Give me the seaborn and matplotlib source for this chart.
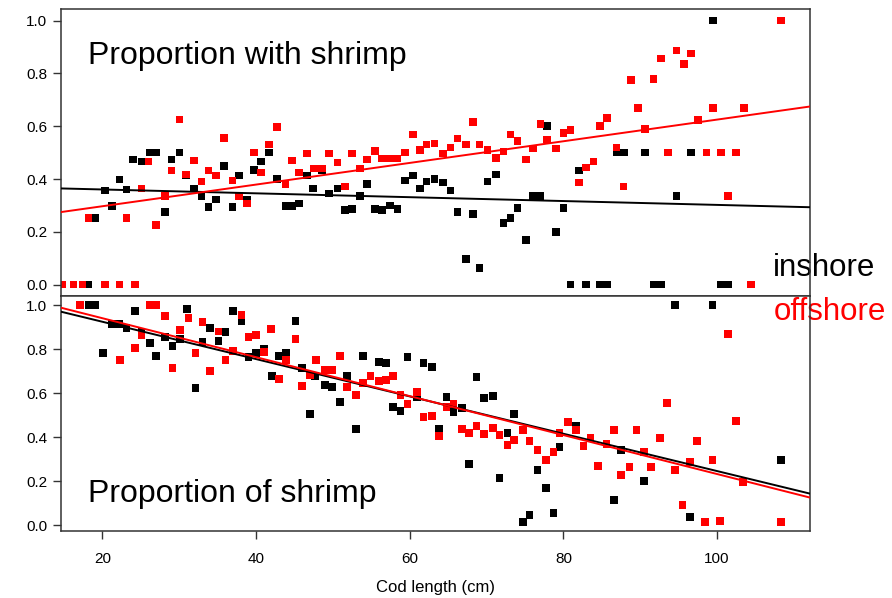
import numpy as np
import pandas as pd
import matplotlib
matplotlib.use('Agg')
import matplotlib.pyplot as plt
import seaborn as sns

# --- data ---
# top panel: proportion of cod with shrimp in stomach, by length
with_in_x = [18.2, 19.1, 20.3, 21.2, 22.2, 23.1, 24.0, 25.1, 26.1, 27.0, 28.1, 29.0, 30.0, 30.9,
             31.9, 32.9, 33.8, 34.8, 35.8, 36.9, 37.8, 38.8, 39.7, 40.6, 41.7, 42.7, 43.8, 44.7,
             45.6, 46.6, 47.4, 48.6, 49.5, 50.6, 51.6, 52.5, 53.5, 54.4, 55.5, 56.4, 57.4, 58.4,
             59.4, 60.4, 61.3, 62.2, 63.2, 64.3, 65.3, 66.2, 67.3, 68.2, 69.1, 70.1, 71.2, 72.2,
             73.1, 74.0, 75.1, 76.0, 77.0, 77.9, 79.0, 80.0, 80.9, 82.0, 82.9, 84.8, 85.7, 87.0,
             87.9, 90.6, 91.7, 92.7, 94.7, 96.6, 99.5, 100.5, 101.4]
with_in_y = [0.0, 0.252, 0.357, 0.297, 0.398, 0.36, 0.474, 0.466, 0.5, 0.5, 0.274, 0.474, 0.5, 0.413,
             0.364, 0.335, 0.293, 0.322, 0.45, 0.293, 0.413, 0.322, 0.435, 0.466, 0.5, 0.4, 0.297, 0.297,
             0.308, 0.413, 0.364, 0.432, 0.345, 0.364, 0.282, 0.286, 0.335, 0.38, 0.286, 0.282, 0.3, 0.286,
             0.395, 0.413, 0.364, 0.39, 0.4, 0.387, 0.357, 0.274, 0.097, 0.267, 0.064, 0.39, 0.417, 0.233,
             0.252, 0.29, 0.17, 0.335, 0.335, 0.6, 0.2, 0.29, 0.0, 0.432, 0.0, 0.0, 0.0, 0.5,
             0.5, 0.5, 0.0, 0.0, 0.335, 0.5, 1.0, 0.0, 0.0]

with_off_x = [14.7, 16.2, 17.4, 20.3, 22.2, 24.2, 18.2, 23.1, 25.1, 26.0, 27.0, 28.1, 29.0, 30.0,
              30.9, 31.9, 32.9, 33.8, 34.8, 35.8, 36.9, 37.8, 38.8, 39.7, 40.6, 41.7, 42.7, 43.8,
              44.7, 45.6, 46.6, 47.5, 48.6, 49.5, 50.6, 51.6, 52.5, 53.5, 54.4, 55.5, 56.4, 57.4,
              58.4, 59.4, 60.4, 61.3, 62.2, 63.2, 64.3, 65.3, 66.2, 67.3, 68.2, 69.1, 70.1, 71.2,
              72.2, 73.1, 74.0, 75.1, 76.0, 77.0, 77.9, 79.0, 80.0, 80.9, 82.0, 82.9, 83.9, 84.8,
              85.7, 86.9, 87.8, 88.8, 89.7, 90.6, 91.7, 92.7, 93.6, 94.7, 95.7, 96.6, 97.5, 98.6,
              99.5, 100.5, 101.4, 102.5, 103.5, 104.4, 108.3]
with_off_y = [0.0, 0.0, 0.0, 0.0, 0.0, 0.0, 0.252, 0.252, 0.364, 0.466, 0.225, 0.335, 0.432, 0.625,
              0.417, 0.47, 0.39, 0.432, 0.413, 0.556, 0.395, 0.335, 0.308, 0.5, 0.425, 0.531, 0.598, 0.38,
              0.47, 0.425, 0.496, 0.44, 0.44, 0.496, 0.462, 0.372, 0.496, 0.44, 0.474, 0.507, 0.477, 0.477,
              0.477, 0.5, 0.568, 0.51, 0.53, 0.534, 0.496, 0.52, 0.553, 0.53, 0.616, 0.53, 0.51, 0.48,
              0.504, 0.568, 0.545, 0.474, 0.515, 0.609, 0.549, 0.515, 0.575, 0.586, 0.387, 0.444, 0.466, 0.6,
              0.632, 0.519, 0.372, 0.774, 0.669, 0.59, 0.778, 0.857, 0.5, 0.887, 0.835, 0.876, 0.624, 0.5,
              0.669, 0.5, 0.335, 0.5, 0.669, 0.0, 1.0]

# bottom panel: proportion of shrimp in the diet, by length
of_in_x = [18.2, 19.1, 20.1, 21.2, 22.2, 23.1, 24.2, 25.1, 26.2, 27.0, 28.1, 29.1, 30.1, 31.0,
           32.1, 33.0, 34.0, 35.1, 36.0, 37.0, 38.1, 39.0, 40.0, 41.0, 42.1, 43.0, 43.9, 45.1,
           46.0, 47.0, 47.7, 49.0, 49.9, 50.9, 51.8, 53.0, 53.9, 56.0, 56.9, 57.8, 58.8, 59.7,
           60.9, 61.8, 62.9, 63.8, 64.8, 65.7, 66.8, 67.7, 68.7, 69.7, 70.8, 71.7, 72.7, 73.6,
           74.7, 75.6, 76.6, 77.7, 78.7, 79.5, 81.6, 86.6, 87.5, 90.5, 94.5, 96.5, 99.4, 108.3]
of_in_y = [1.0, 1.0, 0.782, 0.914, 0.914, 0.895, 0.973, 0.877, 0.827, 0.768, 0.855, 0.814, 0.845, 0.982,
           0.623, 0.832, 0.895, 0.836, 0.877, 0.973, 0.927, 0.764, 0.782, 0.8, 0.677, 0.768, 0.782, 0.927,
           0.714, 0.505, 0.677, 0.636, 0.627, 0.56, 0.677, 0.436, 0.768, 0.741, 0.736, 0.536, 0.518, 0.764,
           0.582, 0.736, 0.718, 0.436, 0.582, 0.514, 0.532, 0.277, 0.673, 0.577, 0.586, 0.214, 0.418, 0.505,
           0.014, 0.045, 0.25, 0.168, 0.055, 0.355, 0.45, 0.114, 0.34, 0.2, 1.0, 0.036, 1.0, 0.295]

of_off_x = [17.1, 22.3, 24.2, 25.1, 26.1, 27.0, 28.1, 29.1, 30.1, 31.2, 32.1, 33.0, 34.0, 35.1,
            36.0, 37.0, 38.1, 39.0, 40.0, 41.0, 41.9, 43.0, 43.9, 45.1, 46.0, 47.0, 47.8, 49.0,
            49.9, 50.9, 51.8, 53.0, 53.9, 54.9, 56.0, 56.9, 57.8, 58.8, 59.7, 60.9, 61.8, 62.9,
            63.8, 64.8, 65.7, 66.8, 67.7, 68.7, 69.7, 70.8, 71.7, 72.7, 73.6, 74.7, 75.6, 76.6,
            77.7, 78.7, 79.5, 80.6, 81.6, 82.6, 83.5, 84.5, 85.6, 86.6, 87.5, 88.6, 89.5, 90.5,
            91.4, 92.6, 93.5, 94.5, 95.5, 96.5, 97.4, 98.4, 99.4, 100.4, 101.4, 102.5, 103.4, 108.3]
of_off_y = [1.0, 0.75, 0.805, 0.864, 1.0, 1.0, 0.95, 0.714, 0.886, 0.94, 0.782, 0.923, 0.7, 0.88,
            0.75, 0.79, 0.955, 0.855, 0.864, 0.786, 0.89, 0.664, 0.75, 0.845, 0.632, 0.682, 0.75, 0.705,
            0.705, 0.768, 0.627, 0.59, 0.645, 0.677, 0.655, 0.66, 0.677, 0.59, 0.55, 0.605, 0.49, 0.495,
            0.405, 0.536, 0.55, 0.436, 0.418, 0.45, 0.414, 0.44, 0.41, 0.364, 0.386, 0.432, 0.382, 0.341,
            0.295, 0.332, 0.418, 0.468, 0.432, 0.359, 0.395, 0.268, 0.368, 0.432, 0.227, 0.264, 0.432, 0.332,
            0.264, 0.395, 0.555, 0.25, 0.091, 0.286, 0.382, 0.014, 0.295, 0.018, 0.868, 0.473, 0.195, 0.014]

# fitted straight lines (intercept, slope)
fit_with = {'inshore': (0.375, -0.00073), 'offshore': (0.215, 0.0041)}
fit_of = {'inshore': (1.0935, -0.00848), 'offshore': (1.117, -0.00885)}

x_ticks = [20, 40, 60, 80, 100]
y_ticks = [0.0, 0.2, 0.4, 0.6, 0.8, 1.0]
colors = {'inshore': 'black', 'offshore': '#ff0000'}

top_df = pd.concat([
    pd.DataFrame({'length': with_in_x, 'prop': with_in_y, 'area': 'inshore'}),
    pd.DataFrame({'length': with_off_x, 'prop': with_off_y, 'area': 'offshore'}),
])
bot_df = pd.concat([
    pd.DataFrame({'length': of_in_x, 'prop': of_in_y, 'area': 'inshore'}),
    pd.DataFrame({'length': of_off_x, 'prop': of_off_y, 'area': 'offshore'}),
])

sns.set_theme(style='white')
plt.rcParams['font.family'] = ['Liberation Sans', 'DejaVu Sans']

fig = plt.figure(figsize=(8.92, 5.98), dpi=100)
ax_top = fig.add_axes([0.0684, 0.505, 0.8397, 0.4796])
ax_bot = fig.add_axes([0.0684, 0.112, 0.8397, 0.393])

xlim = (14.6, 112.1)

def draw_panel(ax, df, fits, ylim):
    sns.scatterplot(data=df, x='length', y='prop', hue='area', palette=colors,
                    marker='s', s=30, linewidth=0, legend=False, ax=ax, zorder=2)
    for area in ['inshore', 'offshore']:
        a, b = fits[area]
        xs = np.array(xlim)
        sns.lineplot(x=xs, y=a + b * xs, color=colors[area], linewidth=1.4, ax=ax, zorder=3)
    ax.set_xlim(*xlim)
    ax.set_ylim(*ylim)
    ax.set_yticks(y_ticks)
    ax.set_yticklabels([f'{v:.1f}' for v in y_ticks])
    ax.set_xlabel('')
    ax.set_ylabel('')
    for sp in ax.spines.values():
        sp.set_visible(True)
        sp.set_color('#333333')
        sp.set_linewidth(1.1)
    ax.tick_params(axis='y', left=True, length=6, width=1, color='#333333',
                   labelsize=11, pad=4, labelcolor='black')
    ax.grid(False)

draw_panel(ax_top, top_df, fit_with, (-0.043, 1.043))
draw_panel(ax_bot, bot_df, fit_of, (-0.027, 1.041))

ax_top.set_xticks([])
ax_bot.set_xticks(x_ticks)
ax_bot.set_xticklabels([str(v) for v in x_ticks])
ax_bot.tick_params(axis='x', bottom=True, length=6, width=1, color='#333333',
                   labelsize=11, pad=9, labelcolor='black')
ax_bot.set_xlabel('Cod length (cm)', fontsize=12, labelpad=10, color='black')

ax_top.text(0.036, 0.809, 'Proportion with shrimp', transform=ax_top.transAxes,
            fontsize=23, ha='left', va='baseline', color='black')
ax_bot.text(0.036, 0.123, 'Proportion of shrimp', transform=ax_bot.transAxes,
            fontsize=23, ha='left', va='baseline', color='black')
ax_top.text(0.951, 0.07, 'inshore', transform=ax_top.transAxes,
            fontsize=22.5, ha='left', va='baseline', color='black', clip_on=False, zorder=1)
ax_bot.text(0.951, 0.898, 'offshore', transform=ax_bot.transAxes,
            fontsize=22.5, ha='left', va='baseline', color='#ff0000', clip_on=False, zorder=1)

fig.savefig('out.png', dpi=100)
plt.close(fig)
